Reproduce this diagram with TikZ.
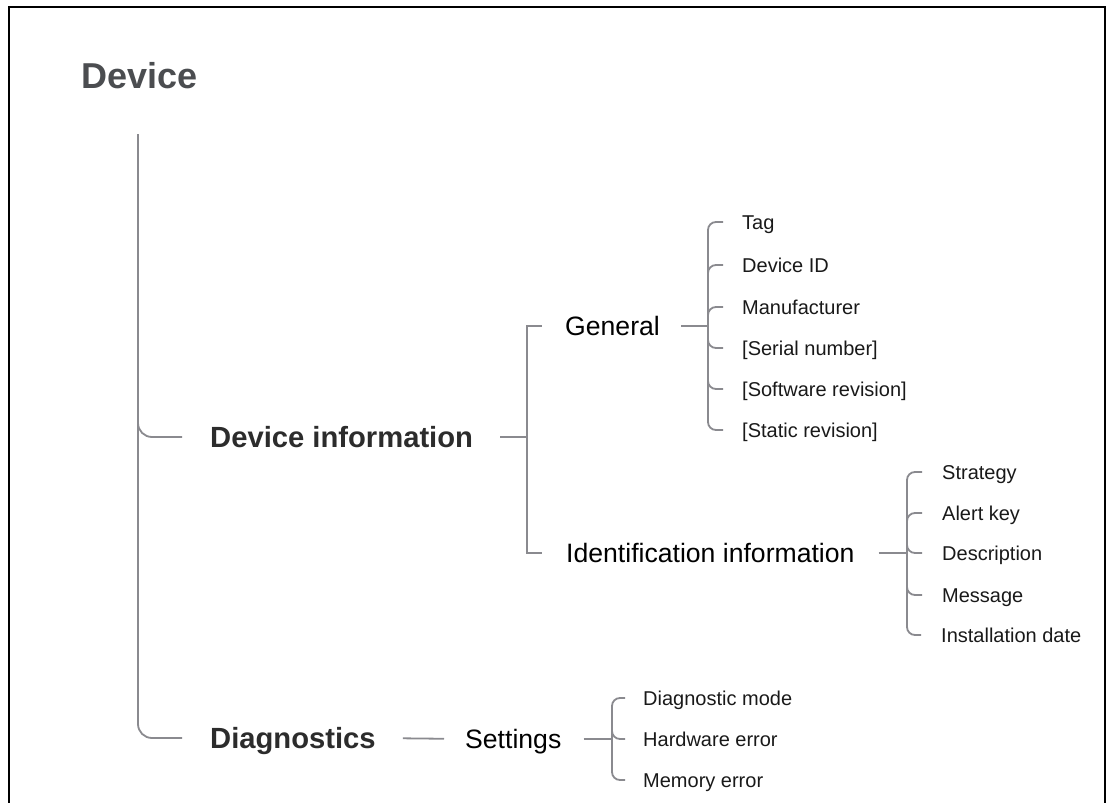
\documentclass[tikz,border=0pt]{standalone}
\usepackage{fontspec}
\setmainfont{Liberation Sans}
\definecolor{linegray}{HTML}{8A8A8F}
\definecolor{titlegray}{HTML}{4B4D50}
\definecolor{headgray}{HTML}{2C2C2C}
\begin{document}
\begin{tikzpicture}[x=1pt, y=-1pt,
  link/.style={draw=linegray, line width=1.8pt},
  lvlone/.style={anchor=west, inner sep=0, text=headgray, font=\fontsize{29.2}{33}\selectfont\bfseries, text height=20.9pt, text depth=0pt},
  lvltwo/.style={anchor=west, inner sep=0, text=black, font=\fontsize{26.6}{30}\selectfont, text height=19pt, text depth=0pt},
  leaf/.style={anchor=west, inner sep=0, text=black!90, font=\fontsize{20}{24}\selectfont, text height=14.3pt, text depth=0pt}]
\useasboundingbox (0,0) rectangle (1112,803);
\draw[line width=1.6pt] (9,804) -- (9,7) -- (1105,7) -- (1105,804);
\node[anchor=west, inner sep=0, text=titlegray, font=\fontsize{36}{40}\selectfont\bfseries, text height=25.8pt, text depth=0pt] (dev) at (81,76){Device};
\coordinate (root) at (138,134);
\node[lvlone] (devinfo) at (210,437){Device information};
\node[lvlone] (diag) at (210,738){Diagnostics};
\draw[link, rounded corners=14pt](root) |- ([xshift=-28pt]devinfo.west);
\draw[link, rounded corners=14pt](root) |- ([xshift=-28pt]diag.west);
% device information
\coordinate (infojoin) at (527,437);
\node[lvltwo] (general) at (565,326){General};
\node[lvltwo] (ident) at (566,553){Identification information};
\draw[link, shorten <=27pt](devinfo.east) -- (infojoin);
\draw[link](infojoin) |- ([xshift=-23pt]general.west);
\draw[link](infojoin) |- ([xshift=-24pt]ident.west);
% general
\coordinate (genjoin) at (708,326);
\node[leaf] (tag) at (742,222){Tag};
\node[leaf] (devid) at (742,265){Device ID};
\node[leaf] (manuf) at (742,307){Manufacturer};
\node[leaf] (serial) at (742,348){[Serial number]};
\node[leaf] (softrev) at (742,389){[Software revision]};
\node[leaf] (staticrev) at (742,430){[Static revision]};
\draw[link, shorten <=21pt](general.east) -- (genjoin);
\foreach \n in {tag,devid,manuf,serial,softrev,staticrev}
  \draw[link, rounded corners=8pt](genjoin) |- ([xshift=-19pt]\n.west);
% identification information
\coordinate (idjoin) at (907,553);
\node[leaf] (strategy) at (942,472){Strategy};
\node[leaf] (alertkey) at (942,513){Alert key};
\node[leaf] (descr) at (942,553){Description};
\node[leaf] (message) at (942,595){Message};
\node[leaf] (instdate) at (941,635){Installation date};
\draw[link, shorten <=24pt](ident.east) -- (idjoin);
\foreach \n in {strategy,alertkey,descr,message,instdate}
  \draw[link, rounded corners=8pt](idjoin) |- ([xshift=-20pt]\n.west);
% diagnostics
\node[lvltwo] (settings) at (465,739){Settings};
\draw[link, shorten <=27pt, shorten >=21pt](diag.east) -- (settings.west);
\coordinate (setjoin) at (612,739);
\node[leaf] (diagmode) at (643,698){Diagnostic mode};
\node[leaf] (hwerror) at (643,739){Hardware error};
\node[leaf] (memerror) at (643,780){Memory error};
\draw[link, shorten <=22pt](settings.east) -- (setjoin);
\foreach \n in {diagmode,hwerror,memerror}
  \draw[link, rounded corners=8pt](setjoin) |- ([xshift=-18pt]\n.west);
\end{tikzpicture}
\end{document}
